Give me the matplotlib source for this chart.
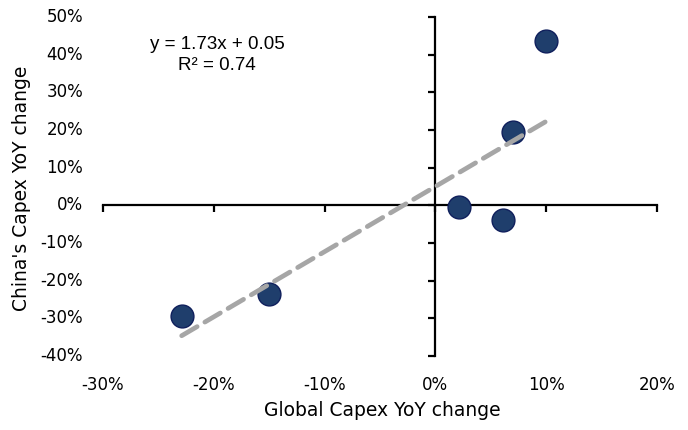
import numpy as np
import matplotlib.pyplot as plt
import matplotlib.transforms as mtransforms

# Global vs China capex growth, yearly observations (fractions)
global_capex = [-0.229, -0.150, 0.021, 0.061, 0.070, 0.100]
china_capex = [-0.294, -0.236, -0.005, -0.040, 0.196, 0.435]

# linear trend as reported on the chart
slope = 1.73
intercept = 0.05
r_squared = 0.74

x_ticks = [-0.3, -0.2, -0.1, 0.0, 0.1, 0.2]
y_ticks = [-0.4, -0.3, -0.2, -0.1, 0.0, 0.1, 0.2, 0.3, 0.4, 0.5]


def pct(v):
    return f"{round(v * 100):d}%"


fig = plt.figure(figsize=(6.88, 4.3), dpi=100)
ax = fig.add_axes([103/688, 74/430, 554/688, 339/430])
ax.set_xlim(-0.3, 0.2)
ax.set_ylim(-0.4, 0.5)

# axes crossing at zero
for side in ("top", "right"):
    ax.spines[side].set_visible(False)
ax.spines["left"].set_position(("data", 0))
ax.spines["bottom"].set_position(("data", 0))
for side in ("left", "bottom"):
    ax.spines[side].set_linewidth(1.6)
    ax.spines[side].set_zorder(1)
ax.set_xticks(x_ticks)
ax.set_yticks(y_ticks)
ax.tick_params(direction="out", length=5, width=1.6, labelleft=False, labelbottom=False)

# tick labels stay at the plot frame edges
ytrans = mtransforms.blended_transform_factory(ax.transAxes, ax.transData)
for v in y_ticks:
    ax.text(-0.036, v, pct(v), transform=ytrans, ha="right", va="center",
            fontsize=12, family="DejaVu Sans")
xtrans = mtransforms.blended_transform_factory(ax.transData, ax.transAxes)
for v in x_ticks:
    ax.text(v, -0.06, pct(v), transform=xtrans, ha="center", va="top",
            fontsize=12, family="DejaVu Sans")

# trend line
xs = np.array([min(global_capex), max(global_capex)])
ax.plot(xs, slope * xs + intercept, color="#a6a6a6", lw=3.4,
        ls=(0, (3.8, 1.9)), dash_capstyle="round", zorder=3)

ax.scatter(global_capex, china_capex, s=270, color="#1f3e6c",
           edgecolor="#0f1f5c", linewidth=1.0, zorder=2)

ax.text(0.206, 0.945, f"y = {slope:.2f}x + {intercept:.2f}\nR\u00b2 = {r_squared:.2f}",
        transform=ax.transAxes, ha="center", va="top", fontsize=13.5,
        family="Liberation Sans", linespacing=1.3)

fig.text(382/688, 1 - 410/430, "Global Capex YoY change", ha="center", va="center",
         fontsize=13.5, family="DejaVu Sans")
fig.text(22/688, 1 - 188/430, "China's Capex YoY change", ha="center", va="center",
         rotation=90, fontsize=13.5, family="DejaVu Sans")

fig.savefig("out.png", dpi=100)
